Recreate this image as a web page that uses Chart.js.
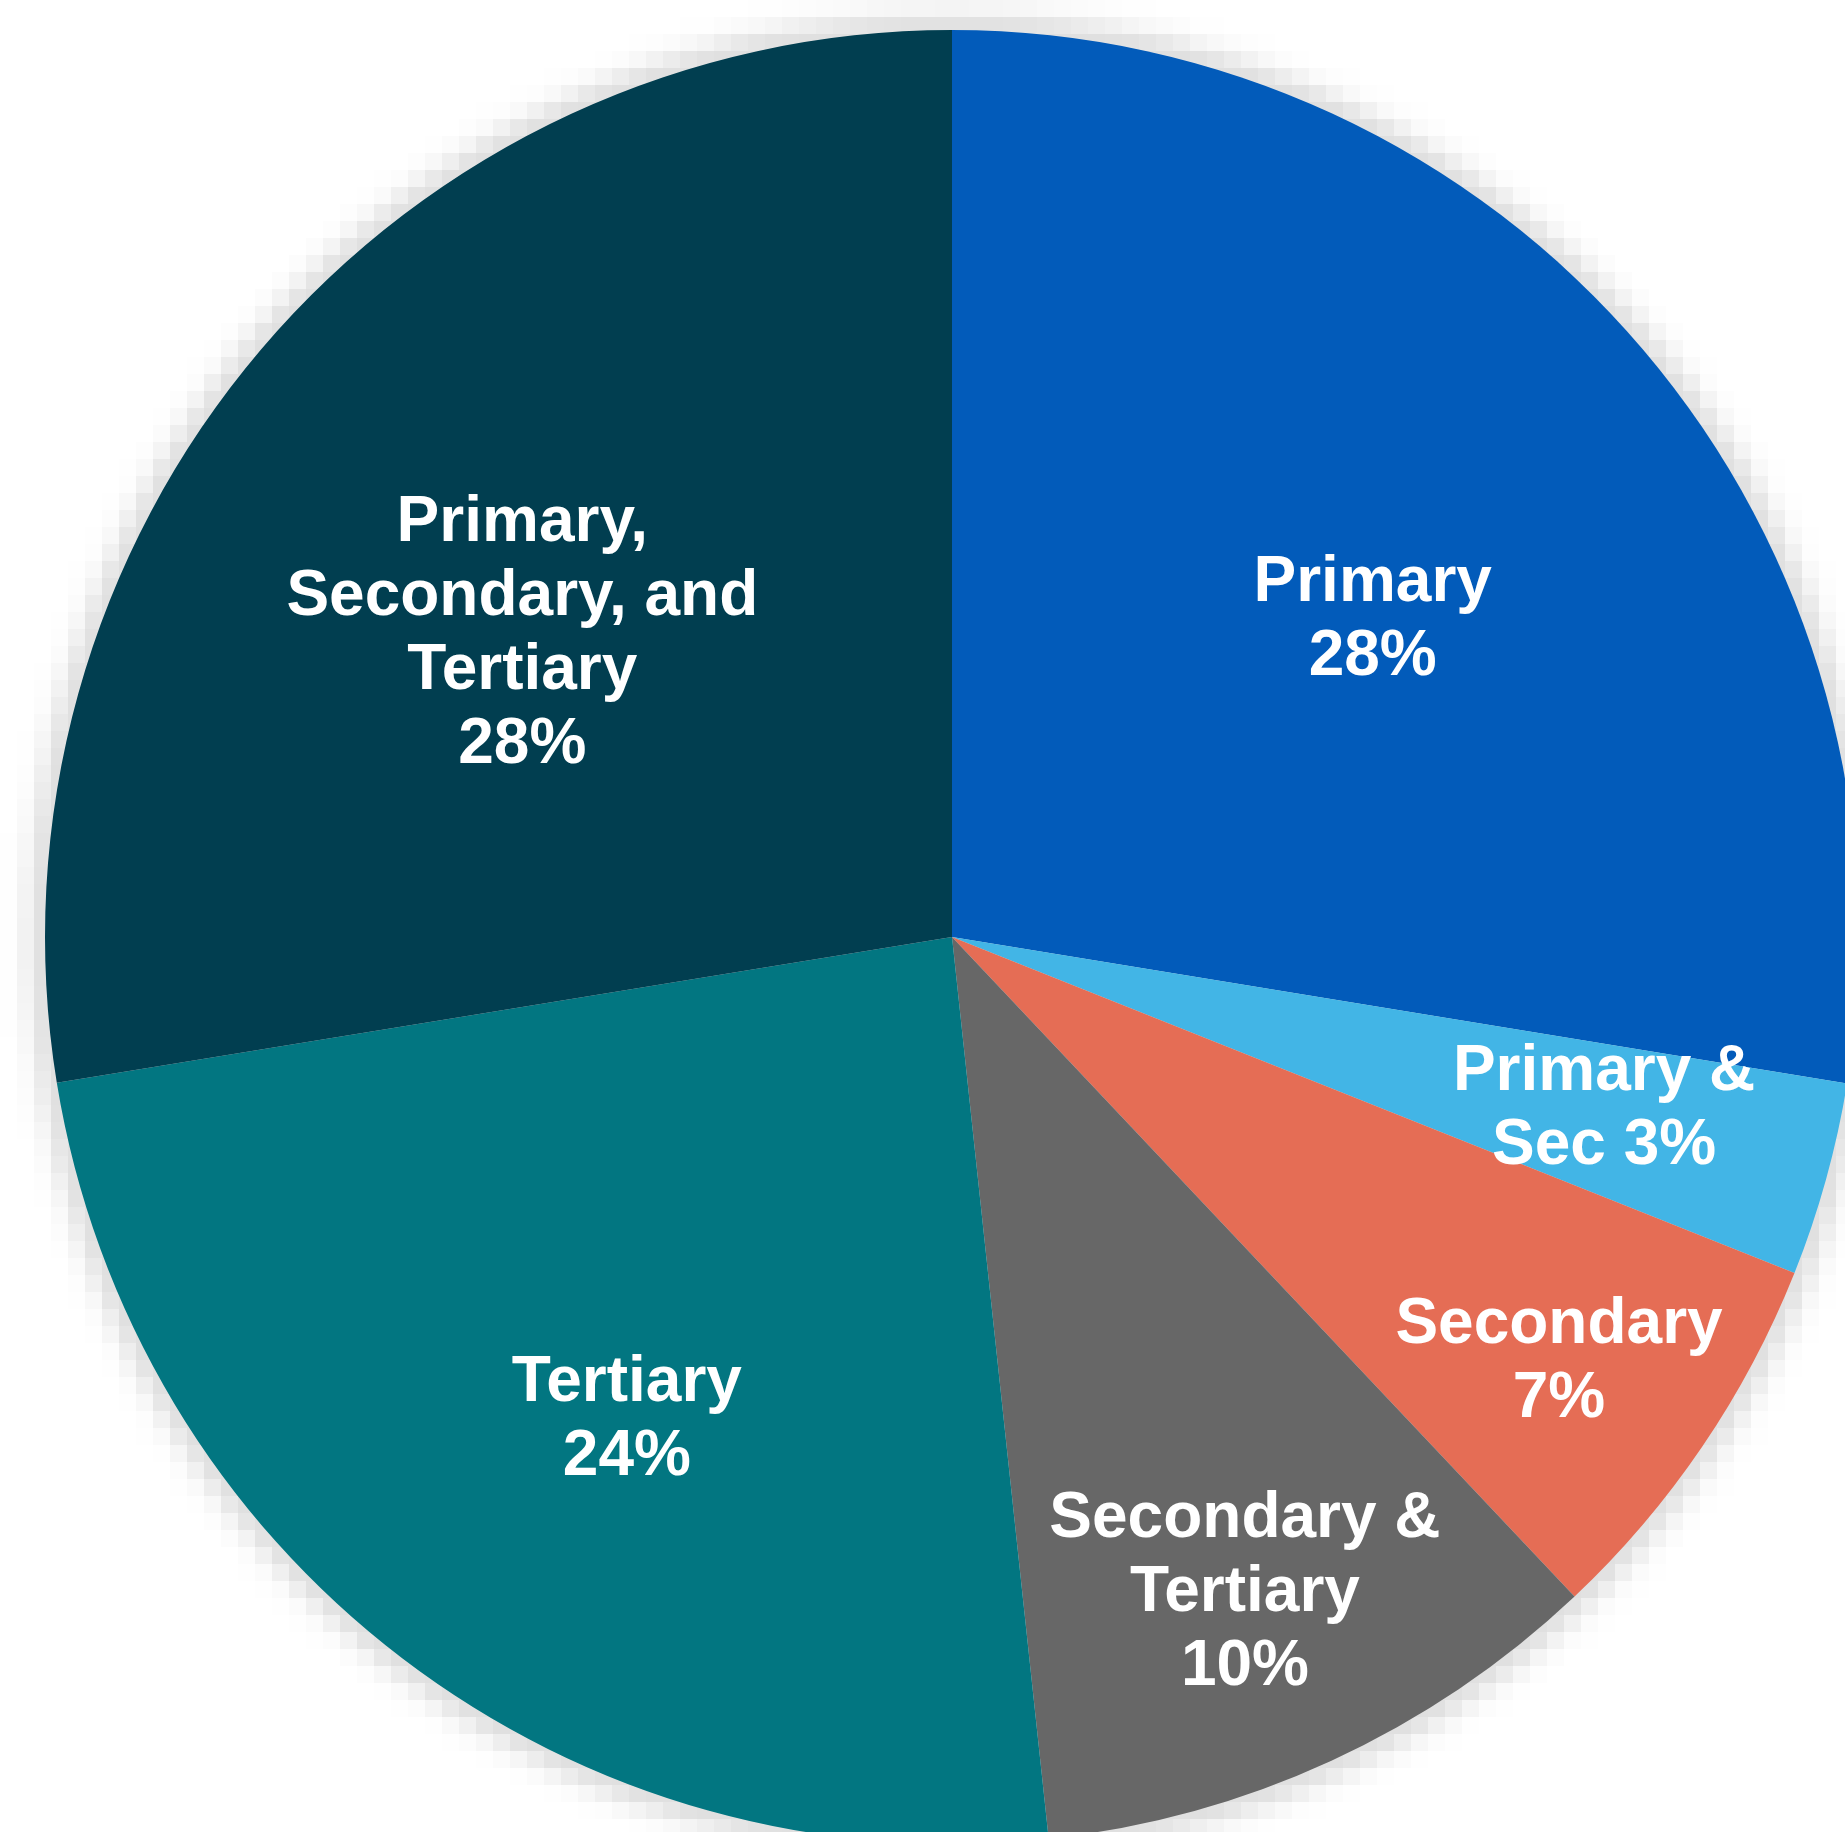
<!DOCTYPE html>
<html>
<head>
<meta charset="utf-8">
<script src="https://cdn.jsdelivr.net/npm/chart.js@4/dist/chart.umd.min.js"></script>
<style>
  html, body { margin: 0; padding: 0; background: #ffffff; overflow: hidden; }
  #wrap { position: relative; width: 1845px; height: 1832px; overflow: hidden; background: #ffffff; }
  #c { position: absolute; left: 0; top: 0; }
</style>
</head>
<body>
<div id="wrap"><canvas id="c" width="1904" height="1874"></canvas></div>
<script>
// ---- data ----
const categories = ["Primary", "Primary & Sec", "Secondary", "Secondary & Tertiary", "Tertiary", "Primary, Secondary, and Tertiary"];
const shares = [27.58, 3.46, 6.92, 10.34, 24.13, 27.57];
const labelLines = [
  ["Primary", "{p}"],
  ["Primary &", "Sec {p}"],
  ["Secondary", "{p}"],
  ["Secondary &", "Tertiary", "{p}"],
  ["Tertiary", "{p}"],
  ["Primary,", "Secondary, and", "Tertiary", "{p}"]
];
const sliceColors = ["#025bba", "#42b5e6", "#e56d55", "#676767", "#027681", "#013e50"];

// ---- label placement (style/layout, not data) ----
const labelPlacement = [
  { r: 0.582, da: 3.2 },
  { r: 0.743, da: -0.9 },
  { r: 0.816, da: 0.7 },
  { r: 0.790, da: 0.6 },
  { r: 0.640, da: -3.25 },
  { r: 0.581, da: -5.0 }
];

// blocky soft glow around the pie
const shadowPlugin = {
  id: 'pieShadow',
  beforeDatasetsDraw(chart) {
    const meta = chart.getDatasetMeta(0);
    const a = meta.data[0];
    if (!a) return;
    const ctx = chart.ctx;
    const W = chart.width, H = chart.height;
    const s = 17;
    const lw = Math.ceil(W / s), lh = Math.ceil(H / s);
    const off = document.createElement('canvas');
    off.width = lw; off.height = lh;
    const octx = off.getContext('2d');
    const img = octx.createImageData(lw, lh);
    for (let j = 0; j < lh; j++) {
      for (let i = 0; i < lw; i++) {
        const px = (i + 0.5) * s, py = (j + 0.5) * s;
        const d = Math.hypot(px - a.x, py - a.y) - a.outerRadius;
        let al = 0;
        if (d <= 0) al = 0.12;
        else al = 0.12 * Math.exp(-Math.pow(d / 21, 2));
        const k = (j * lw + i) * 4;
        img.data[k] = 0; img.data[k + 1] = 0; img.data[k + 2] = 0;
        img.data[k + 3] = Math.round(al * 255);
      }
    }
    octx.putImageData(img, 0, 0);
    ctx.save();
    ctx.imageSmoothingEnabled = false;
    ctx.drawImage(off, 0, 0, lw * s, lh * s);
    ctx.restore();
  }
};

const labelPlugin = {
  id: 'sliceLabels',
  afterDatasetsDraw(chart) {
    const meta = chart.getDatasetMeta(0);
    const ctx = chart.ctx;
    const total = shares.reduce((s, v) => s + v, 0);
    ctx.save();
    ctx.fillStyle = '#ffffff';
    ctx.font = 'bold 64px "Liberation Sans", Arial, sans-serif';
    ctx.textAlign = 'center';
    ctx.textBaseline = 'middle';
    const lh = 74;
    meta.data.forEach((arc, i) => {
      const pl = labelPlacement[i];
      const mid = (arc.startAngle + arc.endAngle) / 2 + pl.da * Math.PI / 180;
      const rr = arc.outerRadius * pl.r;
      const cx = arc.x + Math.cos(mid) * rr;
      const cy = arc.y + Math.sin(mid) * rr;
      const pct = Math.round(shares[i] / total * 100) + '%';
      const lines = labelLines[i].map(t => t.replace('{p}', pct));
      const n = lines.length;
      lines.forEach((t, k) => {
        ctx.fillText(t, cx, cy + (k - (n - 1) / 2) * lh + 2);
      });
    });
    ctx.restore();
  }
};

new Chart(document.getElementById('c'), {
  type: 'pie',
  data: {
    labels: categories,
    datasets: [{
      data: shares,
      backgroundColor: sliceColors,
      borderWidth: 0
    }]
  },
  options: {
    responsive: false,
    animation: false,
    layout: { padding: { left: 45, right: 45, top: 30, bottom: 30 } },
    plugins: {
      legend: { display: false },
      tooltip: { enabled: false }
    }
  },
  plugins: [shadowPlugin, labelPlugin]
});
</script>
</body>
</html>
